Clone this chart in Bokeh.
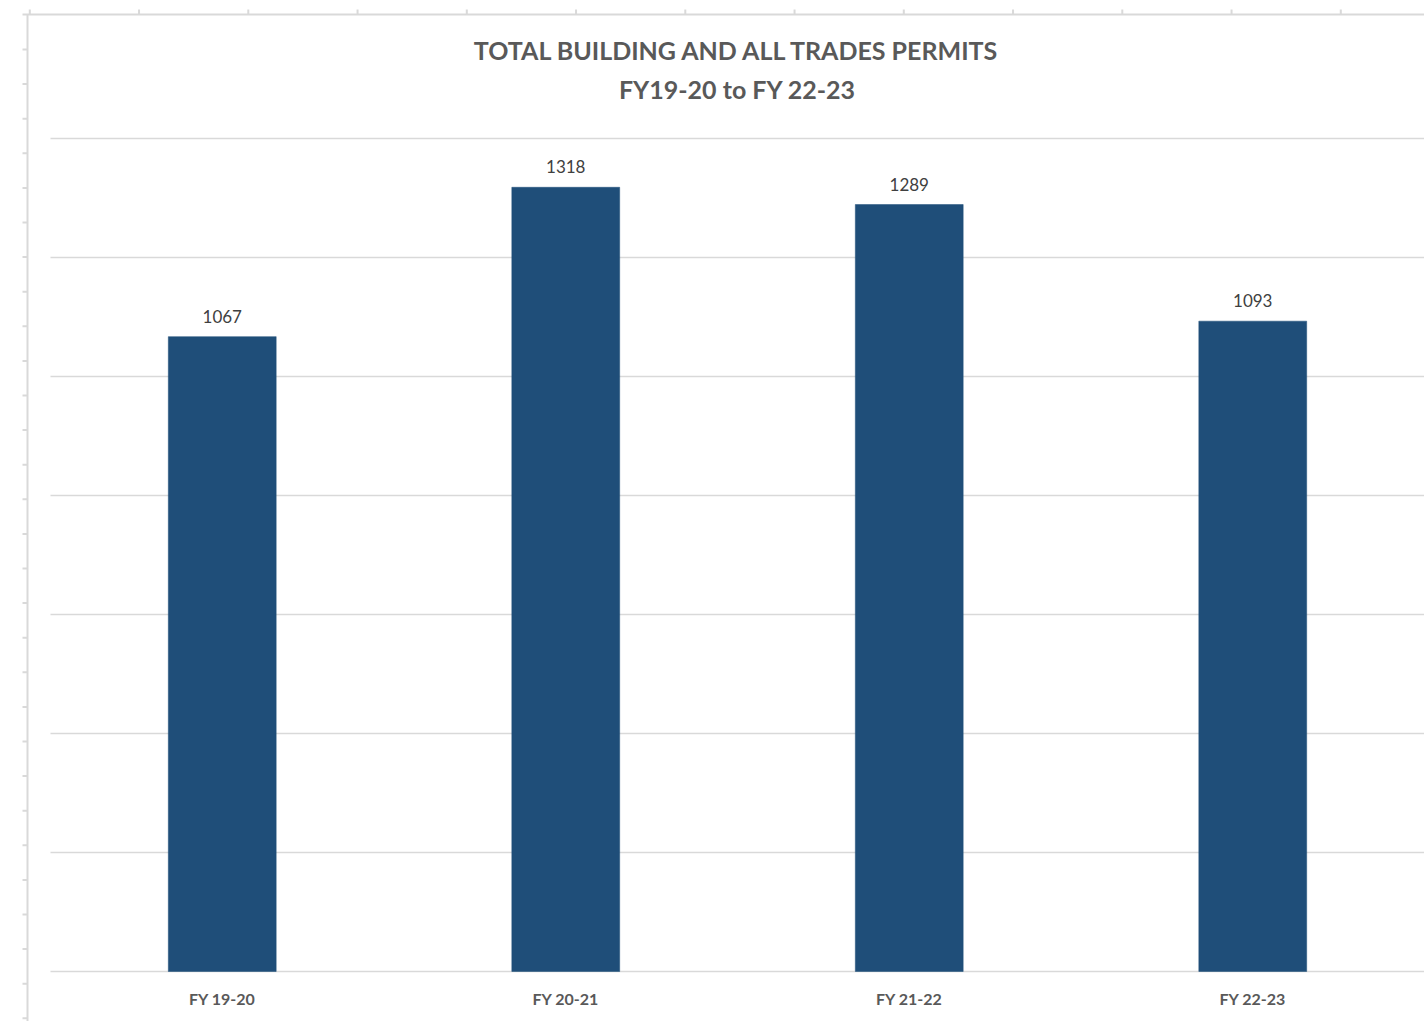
from bokeh.plotting import figure
from bokeh.models import Range1d, ColumnDataSource
from bokeh.core.properties import value
from bokeh.embed import file_html
from bokeh.resources import INLINE
import numpy as np

# ---- data ----
categories = ["FY 19-20", "FY 20-21", "FY 21-22", "FY 22-23"]
permits = [1067, 1318, 1289, 1093]
title_line1 = "TOTAL BUILDING AND ALL TRADES PERMITS"
title_line2 = "FY19-20 to FY 22-23"
grid_values = [0, 200, 400, 600, 800, 1000, 1200, 1400]

# ---- layout (canvas pixels) ----
W, H = 1424, 1021
cat_left, cat_right = 50, 1424          # px of category band
y0_px, ytop_px = 971, 138               # px of value 0 and of top grid value

n = len(categories)
ppu_x = (cat_right - cat_left) / n
x_start = -cat_left / ppu_x
x_end = n + (W - cat_right) / ppu_x
ppu_y = (y0_px - ytop_px) / grid_values[-1]
y_start = -(H - y0_px) / ppu_y
y_end = grid_values[-1] + ytop_px / ppu_y

p = figure(width=W, height=H, output_backend="svg", toolbar_location=None,
           x_range=Range1d(x_start, x_end), y_range=Range1d(y_start, y_end),
           x_axis_type=None, y_axis_type=None,
           min_border_left=0, min_border_top=0,
           min_border_right=0, min_border_bottom=0)
p.outline_line_color = None
p.xgrid.visible = False
p.ygrid.visible = False
p.background_fill_color = "white"
p.border_fill_color = "white"

# ruler-like border of the screenshot, in pixel ranges
p.extra_x_ranges = {"px": Range1d(0, W)}
p.extra_y_ranges = {"py": Range1d(H, 0)}
ruler_col = "#d9d9d9"
top_y, left_x, tick_len = 14, 27, 5
top_ticks = 29.3 + 109.25 * np.arange(13)
left_ticks = 49 + 34.6 * np.arange(29)
p.segment(x0=[left_x - tick_len, left_x], x1=[W, left_x],
          y0=[top_y, top_y], y1=[top_y, H],
          x_range_name="px", y_range_name="py",
          line_color=ruler_col, line_width=2)
p.segment(x0=top_ticks, x1=top_ticks, y0=[top_y - tick_len] * len(top_ticks),
          y1=[top_y] * len(top_ticks), x_range_name="px", y_range_name="py",
          line_color=ruler_col, line_width=2)
p.segment(x0=[left_x - tick_len] * len(left_ticks), x1=[left_x] * len(left_ticks),
          y0=left_ticks, y1=left_ticks, x_range_name="px", y_range_name="py",
          line_color=ruler_col, line_width=2)

# grid lines over the category band
p.segment(x0=[0] * len(grid_values), x1=[n] * len(grid_values),
          y0=grid_values, y1=grid_values, line_color="#d9d9d9", line_width=1.6)

xs = [i + 0.5 for i in range(n)]
src = ColumnDataSource(dict(x=xs, top=permits, cat=categories,
                            lab=[str(v) for v in permits]))

p.vbar(x="x", top="top", bottom=0, width=0.314, source=src,
       fill_color="#1f4e79", line_color="#1f4e79", line_width=0.5)

p.text(x="x", y="top", text="lab", source=src, text_align="center",
       text_baseline="bottom", y_offset=-14, text_font=value("Lato"),
       text_font_size="17px", text_color="#404040")

p.text(x="x", y=0, text="cat", source=src, text_align="center",
       text_baseline="middle", y_offset=27, text_font=value("Lato"),
       text_font_size="16px", text_font_style="bold", text_color="#595959")

p.text(x=[n / 2], y=[grid_values[-1]], text=[title_line1], text_align="center",
       text_baseline="middle", y_offset=-89, text_font=value("Lato"),
       text_font_size="25px", text_font_style="bold", text_color="#595959")
p.text(x=[n / 2], y=[grid_values[-1]], text=[title_line2], text_align="center",
       text_baseline="middle", y_offset=-50, text_font=value("Lato"),
       text_font_size="25px", text_font_style="bold", text_color="#595959")

open("out.html", "w").write(file_html(p, INLINE))
